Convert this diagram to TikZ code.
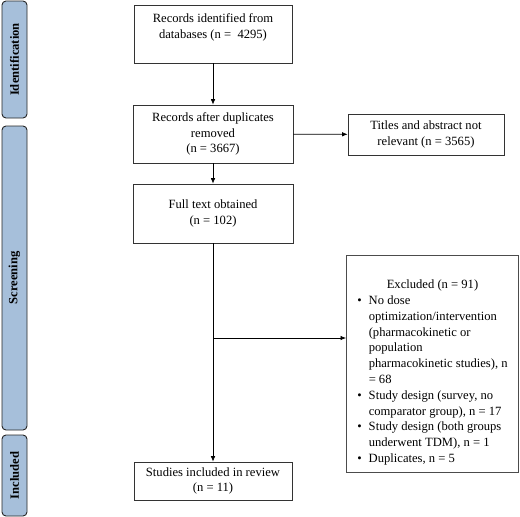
\documentclass[tikz,border=0pt]{standalone}
\usepackage{fontspec}
\setmainfont{Liberation Serif}
\usetikzlibrary{arrows.meta}
\definecolor{stagefill}{HTML}{A6BFDA}

\begin{document}
\begin{tikzpicture}[
    x=1pt, y=-1pt,
    >={Latex[length=5.5pt,width=4.5pt]},
    line width=0.7pt,
    box/.style={
        rectangle,
        draw=black!80,
        minimum width=158pt,
        align=center,
        inner sep=2pt,
        font=\fontsize{12.6}{15.5}\selectfont
    },
    listbox/.style={
        rectangle,
        draw=black!70,
        line width=0.9pt,
        minimum width=172pt,
        minimum height=217pt,
        inner sep=2pt,
        font=\fontsize{12.6}{15.8}\selectfont
    },
    stage/.style={
        rectangle,
        rounded corners=4pt,
        draw=black!85,
        line width=0.9pt,
        fill=stagefill,
        rotate=90,
        minimum height=25pt,
        inner sep=0pt,
        font=\bfseries\fontsize{12.6}{15.5}\selectfont
    }
]
\useasboundingbox (0,0) rectangle (520,517);

% stage labels on the left
\node[stage, minimum width=117pt] (ident) at (14.5,59.5) {Identification};
\node[stage, minimum width=304pt] (screen) at (14.5,278) {Screening};
\node[stage, minimum width=81pt] (incl) at (14.5,475.5) {Included};

% main column
\node[box, minimum height=58pt] (rec) at (213,34) {Records identified from\\databases (n = ~4295)\\ ~};
\node[box, minimum width=160pt, minimum height=58pt] (dedup) at (213,134) {Records after duplicates\\removed\\(n = 3667)};
\node[box, minimum width=160pt, minimum height=59pt] (full) at (213,213.5) {Full text obtained\\(n = 102)};
\node[box, minimum height=38pt] (review) at (213,481) {Studies included in review\\(n = 11)};

% exclusions
\node[box, minimum width=156pt, minimum height=41pt] (titles) at (426,134.5) {Titles and abstract not\\relevant (n = 3565)};
\node[listbox, text height=29pt] (excluded) at (432.5,363.5) {%
\begin{tabular}[t]{@{}l@{\hspace{7pt}}l@{}}
\multicolumn{2}{c}{Excluded (n = 91)}\\
\textbullet & No dose\\
 & optimization/intervention\\
 & (pharmacokinetic or\\
 & population\\
 & pharmacokinetic studies), n\\
 & = 68\\
\textbullet & Study design (survey, no\\
 & comparator group), n = 17\\
\textbullet & Study design (both groups\\
 & underwent TDM), n = 1\\
\textbullet & Duplicates, n = 5
\end{tabular}};

\coordinate (split) at (213,338);

\draw[->] (rec) -- (dedup);
\draw[->] (dedup) -- (titles);
\draw[->] (dedup) -- (full);
\draw[->] (full) -- (review);
\draw[->] (split) -- (split -| excluded.west);

\end{tikzpicture}
\end{document}
